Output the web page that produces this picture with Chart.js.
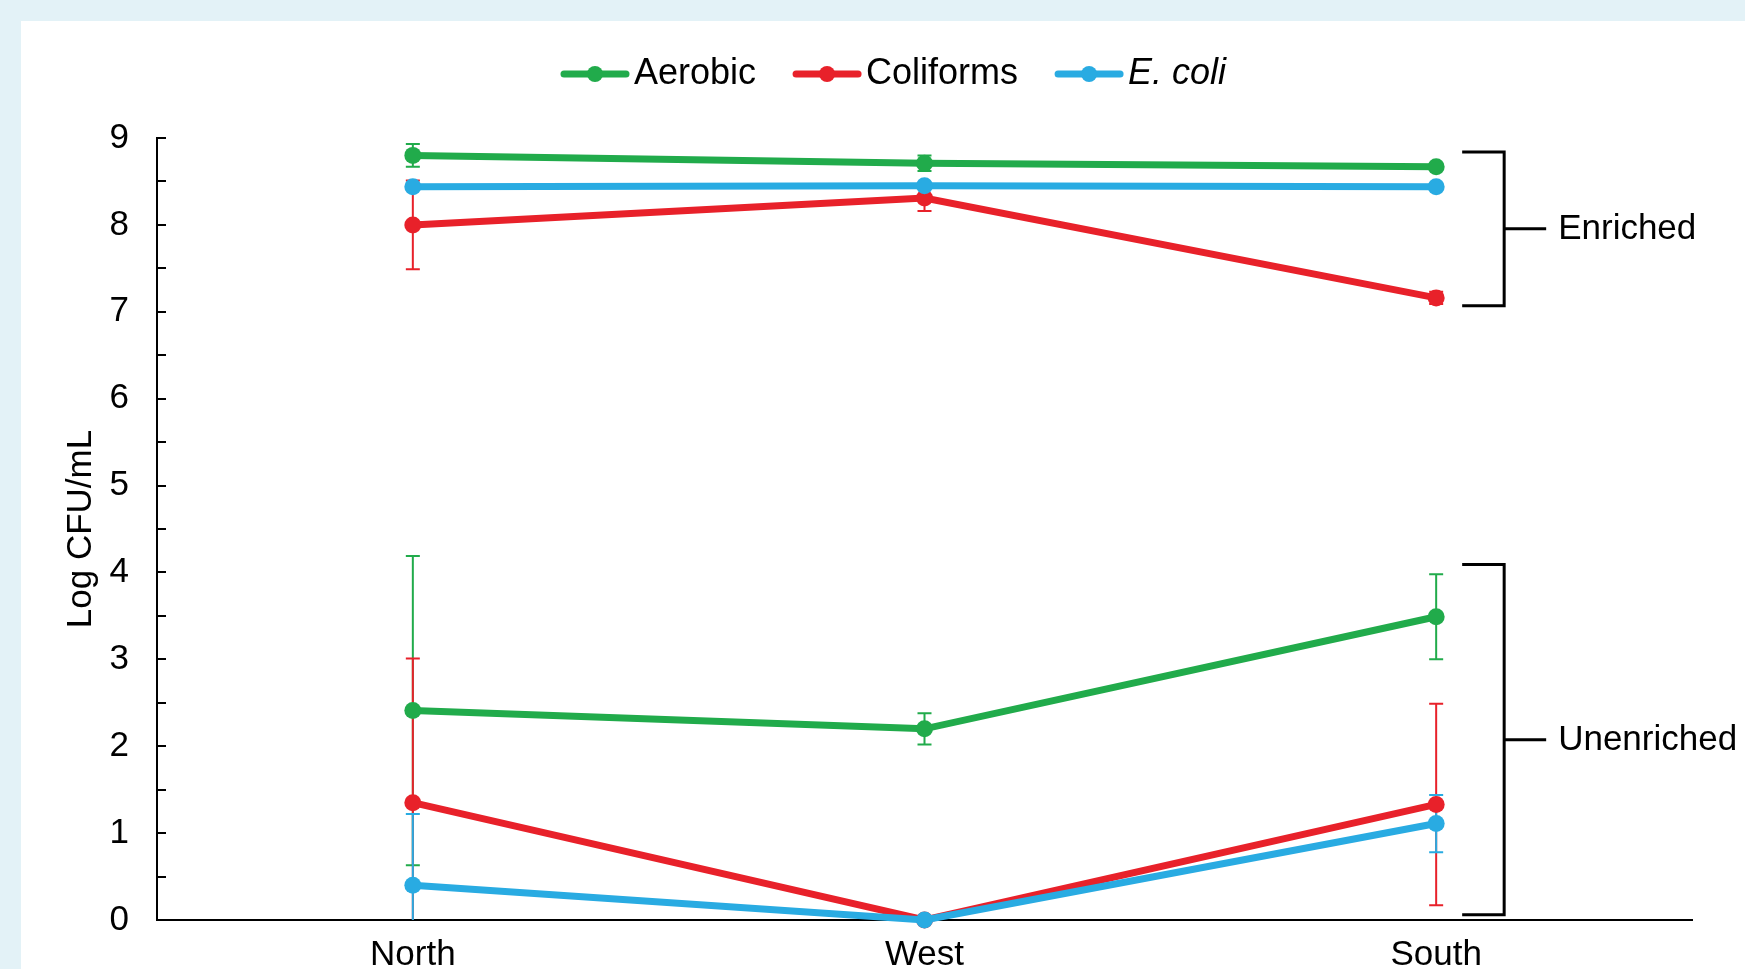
<!DOCTYPE html>
<html>
<head>
<meta charset="utf-8">
<script src="https://cdn.jsdelivr.net/npm/chart.js@4.4.1/dist/chart.umd.min.js"></script>
<style>
  html, body { margin: 0; padding: 0; background: #e3f2f7; }
  body { width: 1745px; height: 969px; position: relative; overflow: hidden; }
  .panel { position: absolute; left: 21px; top: 21px; right: 0; bottom: 0; background: #fff; }
  #chart { position: absolute; left: 0; top: 0; }
</style>
</head>
<body>
<div class="panel"></div>
<canvas id="chart" width="1745" height="969"></canvas>
<script>
// DATA
const sites = ['North', 'West', 'South'];
const seriesNames = ['Aerobic', 'Coliforms', 'E. coli'];
const groups = ['Enriched', 'Unenriched'];
const groupRanges = [[7.07, 8.84], [0.06, 4.09]];

const aerobicEnriched = [8.80, 8.71, 8.67];
const aerobicEnrichedSd = [0.13, 0.09, 0.03];
const aerobicUnenriched = [2.41, 2.20, 3.49];
const aerobicUnenrichedSd = [1.78, 0.18, 0.49];

const coliformsEnriched = [8.00, 8.31, 7.16];
const coliformsEnrichedSd = [0.51, 0.15, 0.07];
const coliformsUnenriched = [1.35, 0, 1.33];
const coliformsUnenrichedSd = [1.66, 0, 1.16];

const ecoliEnriched = [8.44, 8.45, 8.44];
const ecoliEnrichedSd = [0.02, 0.02, 0.02];
const ecoliUnenriched = [0.40, 0, 1.11];
const ecoliUnenrichedSd = [0.82, 0, 0.33];

const colors = ['#21ab4b', '#e8212a', '#29abe2'];
const legendItalic = [false, false, true];
const FONT = "'Liberation Sans', Arial, Helvetica, sans-serif";

function line(label, data, err, c, order) {
  return {
    label, data, err, order,
    borderColor: colors[c],
    backgroundColor: colors[c],
    borderWidth: 7,
    pointRadius: 8.5,
    pointHoverRadius: 8.5,
    pointBorderWidth: 0,
    tension: 0,
    clip: false,
  };
}

// ERROR BARS
const errorBars = {
  id: 'errorBars',
  beforeDatasetsDraw(chart) {
    const { ctx, chartArea: a, scales: { x, y } } = chart;
    ctx.save();
    ctx.beginPath();
    ctx.rect(a.left, a.top - 20, a.right - a.left, a.bottom - a.top + 20);
    ctx.clip();
    ctx.lineWidth = 2;
    chart.data.datasets.forEach(ds => {
      ctx.strokeStyle = ds.borderColor;
      ds.data.forEach((v, i) => {
        const e = ds.err[i];
        if (!e) return;
        const px = x.getPixelForValue(i);
        const top = y.getPixelForValue(v + e);
        const bot = y.getPixelForValue(v - e);
        ctx.beginPath();
        ctx.moveTo(px, top); ctx.lineTo(px, bot);
        ctx.moveTo(px - 7, top); ctx.lineTo(px + 7, top);
        ctx.moveTo(px - 7, bot); ctx.lineTo(px + 7, bot);
        ctx.stroke();
      });
    });
    ctx.restore();
  }
};

// TICKS, BRACKETS, LEGEND
const extras = {
  id: 'extras',
  afterDraw(chart) {
    const { ctx, chartArea: a, scales: { x, y } } = chart;
    ctx.save();
    ctx.strokeStyle = '#000';
    ctx.lineWidth = 2;
    for (let v = 0.5; v <= 9; v += 0.5) {
      const py = Math.round(y.getPixelForValue(v));
      ctx.beginPath();
      ctx.moveTo(a.left, py);
      ctx.lineTo(a.left + 9, py);
      ctx.stroke();
    }

    const xs = x.getPixelForValue(sites.length - 1);
    ctx.lineWidth = 3;
    ctx.fillStyle = '#000';
    ctx.font = `35px ${FONT}`;
    ctx.textBaseline = 'middle';
    ctx.textAlign = 'left';
    groups.forEach((g, k) => {
      const [lo, hi] = groupRanges[k];
      const t = y.getPixelForValue(hi), b = y.getPixelForValue(lo), m = (t + b) / 2;
      const vx = xs + 68;
      ctx.beginPath();
      ctx.moveTo(xs + 26, t); ctx.lineTo(vx, t); ctx.lineTo(vx, b); ctx.lineTo(xs + 26, b);
      ctx.moveTo(vx, m); ctx.lineTo(vx + 42, m);
      ctx.stroke();
      ctx.fillText(g, vx + 54, m + 1);
    });

    let lx = 561;
    const ly = 74;
    seriesNames.forEach((name, i) => {
      ctx.strokeStyle = colors[i];
      ctx.fillStyle = colors[i];
      ctx.lineWidth = 7;
      ctx.lineCap = 'round';
      ctx.beginPath();
      ctx.moveTo(lx + 3, ly); ctx.lineTo(lx + 65, ly);
      ctx.stroke();
      ctx.beginPath();
      ctx.arc(lx + 34, ly, 8, 0, Math.PI * 2);
      ctx.fill();
      ctx.fillStyle = '#000';
      ctx.font = `${legendItalic[i] ? 'italic ' : ''}36px ${FONT}`;
      ctx.fillText(name, lx + 73, ly);
      lx += 73 + ctx.measureText(name).width + 37;
    });
    ctx.restore();
  }
};

Chart.defaults.color = '#000';
Chart.defaults.font.family = FONT;

const myChart = new Chart(document.querySelector('#chart'), {
  type: 'line',
  data: {
    labels: sites,
    datasets: [
      line('Aerobic', aerobicEnriched, aerobicEnrichedSd, 0, 2),
      line('Aerobic', aerobicUnenriched, aerobicUnenrichedSd, 0, 2),
      line('Coliforms', coliformsEnriched, coliformsEnrichedSd, 1, 1),
      line('Coliforms', coliformsUnenriched, coliformsUnenrichedSd, 1, 1),
      line('E. coli', ecoliEnriched, ecoliEnrichedSd, 2, 0),
      line('E. coli', ecoliUnenriched, ecoliUnenrichedSd, 2, 0),
    ],
  },
  options: {
    responsive: false,
    devicePixelRatio: 1,
    animation: false,
    layout: { padding: { top: 138, right: 53, left: 0, bottom: 0 } },
    plugins: { legend: { display: false }, tooltip: { enabled: false } },
    scales: {
      x: {
        offset: true,
        grid: { display: false, drawTicks: false },
        border: { display: true, color: '#000', width: 2 },
        ticks: { padding: 14, font: { size: 35 } },
        afterFit(scale) { scale.height = 48; },
      },
      y: {
        min: 0,
        max: 9,
        grid: { display: false, drawTicks: false },
        border: { display: true, color: '#000', width: 2 },
        ticks: { stepSize: 1, padding: 28, font: { size: 35 } },
        title: { display: true, text: 'Log CFU/mL', font: { size: 35 }, padding: { top: 60, bottom: 0 } },
        afterFit(scale) { scale.width = 157; },
      },
    },
  },
  plugins: [errorBars, extras],
});
</script>
</body>
</html>
